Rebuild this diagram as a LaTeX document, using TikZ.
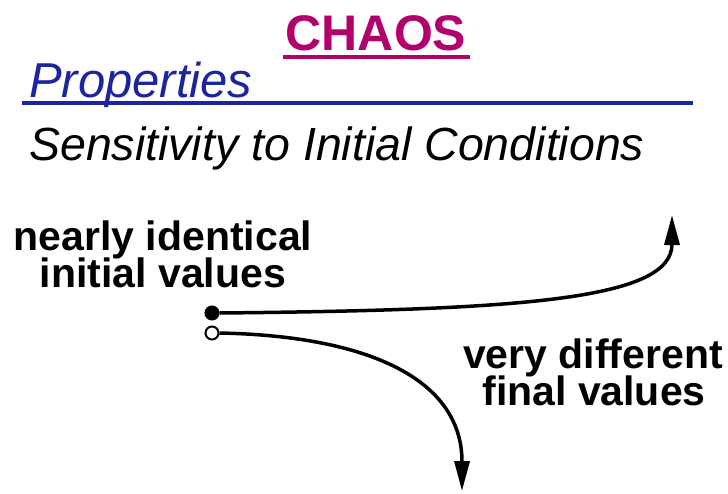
\documentclass[tikz,border=0pt]{standalone}
\usepackage{fontspec}
\setmainfont{Liberation Sans}
\usetikzlibrary{positioning,arrows.meta}
\definecolor{chaosmag}{RGB}{178,0,108}
\definecolor{propblue}{RGB}{28,36,160}
\tikzset{
  titletext/.style={font=\fontsize{50}{56}\selectfont\bfseries,text=chaosmag,inner sep=0pt},
  headtext/.style={font=\fontsize{49}{54}\selectfont\itshape,text=propblue,inner sep=0pt},
  subtext/.style={font=\fontsize{46.5}{52}\selectfont\itshape,inner sep=0pt},
  labeltext/.style={font=\fontsize{41}{46}\selectfont\bfseries,inner sep=0pt},
  rule/.style={line width=3.5pt},
  dot/.style={circle,draw=black,line width=2pt,minimum size=13pt,inner sep=0pt},
  flow/.style={line width=3.5pt,-{Triangle[length=30pt,width=15pt]}},
}
\begin{document}
\begin{tikzpicture}[x=1pt,y=-1pt]
  \useasboundingbox (0,0) rectangle (728,493);
  % heading
  \node[titletext,anchor=base] (title) at (376,50) {CHAOS};
  \draw[rule,chaosmag] (283,57) -- (470,57);
  \node[headtext,anchor=base west] (props) at (29,97) {Properties};
  \draw[rule,propblue] (22,103) -- (693,103);
  \node[subtext,anchor=base west] (sens) at (29,160) {Sensitivity to Initial Conditions};
  % labels
  \node[labeltext,anchor=base] (nearA) at (163,250) {nearly identical};
  \node[labeltext,anchor=base] (nearB) at (163,287) {initial values};
  \node[labeltext,anchor=base] (diffA) at (593,368) {very different};
  \node[labeltext,anchor=base] (diffB) at (594,405) {final values};
  % starting points and paths
  \node[dot,fill=black] (startA) at (212,313) {};
  \node[dot,fill=white] (startB) at (212,333) {};
  \coordinate (endA) at (672,215);
  \coordinate (endB) at (462,491);
  \draw[flow] (startA.east) .. controls (520,310) and (672,300) .. (endA);
  \draw[flow] (startB.east) .. controls (370,336) and (462,380) .. (endB);
\end{tikzpicture}
\end{document}
